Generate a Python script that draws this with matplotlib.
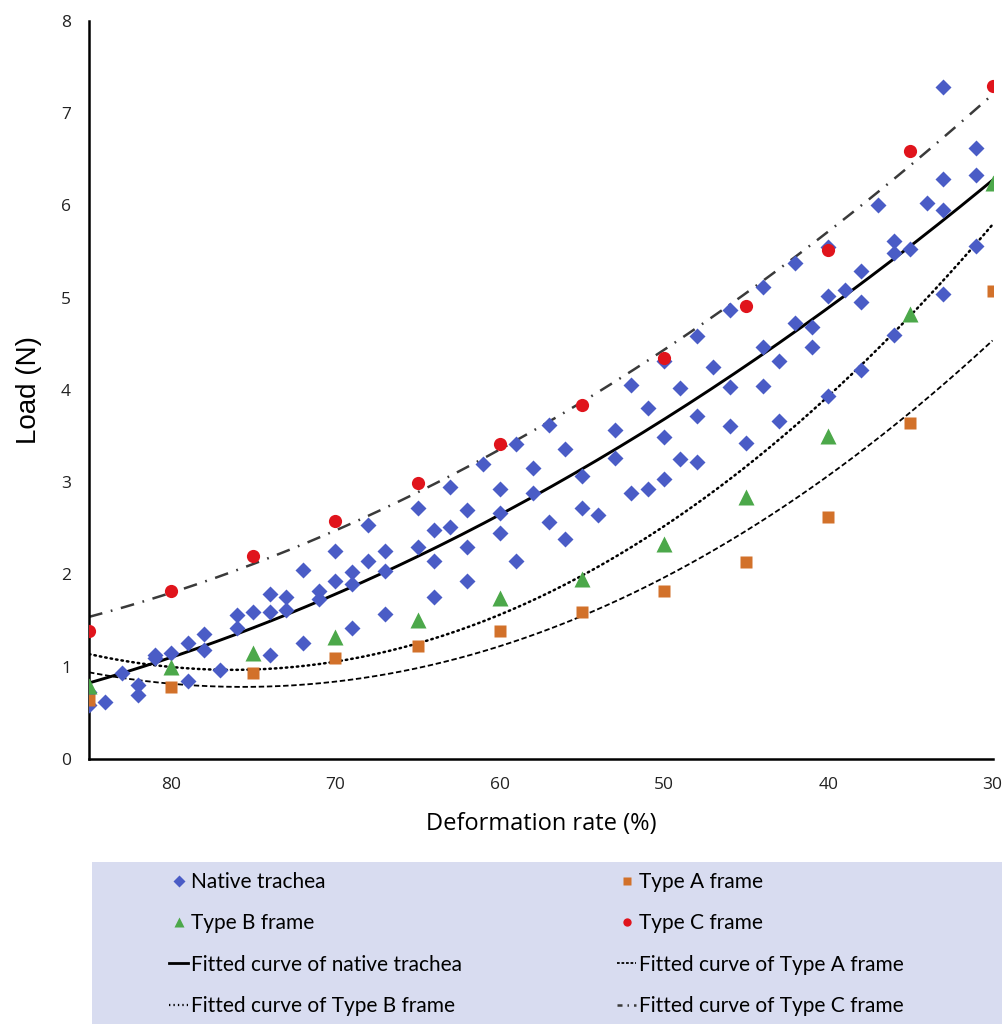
import numpy as np
import matplotlib.pyplot as plt
from matplotlib.lines import Line2D
from matplotlib.patches import Rectangle

# ---- data ----
frame_x = [85, 80, 75, 70, 65, 60, 55, 50, 45, 40, 35, 30]
type_a = [0.64, 0.78, 0.93, 1.09, 1.23, 1.39, 1.59, 1.82, 2.14, 2.62, 3.64, 5.07]
type_b = [0.79, 1.00, 1.15, 1.32, 1.51, 1.74, 1.95, 2.33, 2.84, 3.50, 4.82, 6.24]
type_c = [1.39, 1.82, 2.20, 2.58, 2.99, 3.41, 3.84, 4.35, 4.91, 5.52, 6.59, 7.29]

native_x = [85, 85, 84, 83, 82, 82, 81, 81, 80, 79, 79, 78, 78, 77,
            76, 76, 75, 74, 74, 74, 73, 73, 72, 72, 71, 71, 70, 70,
            69, 69, 69, 68, 68, 67, 67, 67, 65, 65, 64, 64, 64, 63, 63,
            62, 62, 62, 61, 60, 60, 60, 59, 59, 58, 58, 57, 57, 56, 56,
            55, 55, 54, 53, 53, 52, 52, 51, 51, 50, 50, 50, 49, 49,
            48, 48, 48, 47, 46, 46, 46, 45, 44, 44, 44, 43, 43, 42, 42,
            41, 41, 40, 40, 40, 39, 38, 38, 38, 37, 36, 36, 36, 35, 34,
            33, 33, 33, 33, 31, 31, 31]
native_y = [0.73, 0.59, 0.62, 0.93, 0.80, 0.69, 1.13, 1.10, 1.15, 1.26, 0.84,
            1.36, 1.18, 0.96, 1.56, 1.42, 1.59, 1.79, 1.59, 1.13, 1.76, 1.62,
            2.05, 1.26, 1.82, 1.73, 2.25, 1.93, 2.03, 1.90, 1.42, 2.54, 2.15,
            2.25, 2.04, 1.57, 2.72, 2.30, 2.48, 2.15, 1.76, 2.95, 2.51, 2.70,
            2.30, 1.93, 3.20, 2.93, 2.67, 2.45, 3.41, 2.15, 3.15, 2.88, 3.62,
            2.57, 3.36, 2.39, 3.07, 2.72, 2.64, 3.57, 3.26, 4.05, 2.88, 3.80,
            2.93, 4.31, 3.49, 3.04, 4.02, 3.25, 4.59, 3.72, 3.22, 4.25, 4.87,
            4.03, 3.61, 3.43, 5.12, 4.47, 4.04, 4.31, 3.66, 5.38, 4.73, 4.68,
            4.47, 5.55, 5.02, 3.93, 5.08, 5.29, 4.95, 4.22, 6.00, 5.61, 5.49,
            4.60, 5.53, 6.03, 7.28, 6.29, 5.95, 5.04, 6.62, 6.33, 5.56]

blue = '#4A5CC6'
orange = '#D2712A'
green = '#4CA84A'
red = '#E0141C'

fig = plt.figure(figsize=(10.05, 10.24), dpi=100)
ax = fig.add_axes([0.0886, 0.2588, 0.899, 0.7207])

ax.plot(native_x, native_y, 'D', color=blue, ms=8.5, mec='none', zorder=3)
ax.plot(frame_x, type_a, 's', color=orange, ms=8, mec='none', zorder=3)
ax.plot(frame_x, type_b, '^', color=green, ms=11, mec='none', zorder=3)
ax.plot(frame_x, type_c, 'o', color=red, ms=9.5, mec='none', zorder=3)

# second order trendlines, as in the spreadsheet
xs = np.linspace(85, 30, 200)
fit_native = np.polyval(np.polyfit(native_x, native_y, 2), xs)
fit_a = np.polyval(np.polyfit(frame_x, type_a, 2), xs)
fit_b = np.polyval(np.polyfit(frame_x, type_b, 2), xs)
fit_c = np.polyval(np.polyfit(frame_x, type_c, 2), xs)

ax.plot(xs, fit_native, color='black', lw=2.1, zorder=2)
ax.plot(xs, fit_a, color='black', lw=1.3, dashes=(3, 1.5), zorder=2)
ax.plot(xs, fit_b, color='black', lw=1.8, dashes=(0.6, 1.6), dash_capstyle='round', zorder=2)
ax.plot(xs, fit_c, color='#3a3a3a', lw=1.8, dashes=(5.5, 3.5, 0.7, 3.5), zorder=2)

ax.set_xlim(85, 30)
ax.set_ylim(0, 8)
ax.set_xticks([80, 70, 60, 50, 40, 30])
ax.set_yticks(range(0, 9))
ax.tick_params(length=0, labelsize=12.5, pad=13)
for lab in ax.get_xticklabels() + ax.get_yticklabels():
    lab.set_family('Open Sans')
    lab.set_color('#222222')
for s in ['top', 'right']:
    ax.spines[s].set_visible(False)
for s in ['left', 'bottom']:
    ax.spines[s].set_linewidth(1.8)

ax.set_xlabel('Deformation rate (%)', fontsize=17, family='Open Sans', labelpad=14)
ax.set_ylabel('Load (N)', fontsize=20, family='Liberation Sans', labelpad=14)

# legend background band
fig.patches.append(Rectangle((0.0915, 0.0), 0.906, 0.158, transform=fig.transFigure,
                             facecolor='#D8DCF0', edgecolor='none', zorder=0))

handles = [
    Line2D([], [], ls='none', marker='D', color=blue, ms=6, mec='none'),
    Line2D([], [], ls='none', marker='s', color=orange, ms=6, mec='none'),
    Line2D([], [], ls='none', marker='^', color=green, ms=7, mec='none'),
    Line2D([], [], ls='none', marker='o', color=red, ms=6, mec='none'),
    Line2D([], [], color='black', lw=2.0),
    Line2D([], [], color='black', lw=1.3, dashes=(1.5, 1)),
    Line2D([], [], color='black', lw=1.6, dashes=(0.6, 1.4)),
    Line2D([], [], color='#3a3a3a', lw=1.8, dashes=(2, 2, 0.6, 2)),
]
labels = ['Native trachea', 'Type A frame', 'Type B frame', 'Type C frame',
          'Fitted curve of native trachea', 'Fitted curve of Type A frame',
          'Fitted curve of Type B frame', 'Fitted curve of Type C frame']
# legend fills columns first, so reorder for row-wise reading
order = [0, 2, 4, 6, 1, 3, 5, 7]
leg = fig.legend([handles[i] for i in order], [labels[i] for i in order],
                 ncol=2, loc='upper left', bbox_to_anchor=(0.16, 0.1565),
                 frameon=False, handlelength=0.9, handletextpad=0.15,
                 columnspacing=7.45, labelspacing=1.02, borderaxespad=0,
                 prop={'family': 'Lato', 'size': 15})

fig.savefig('out.png', dpi=100)
